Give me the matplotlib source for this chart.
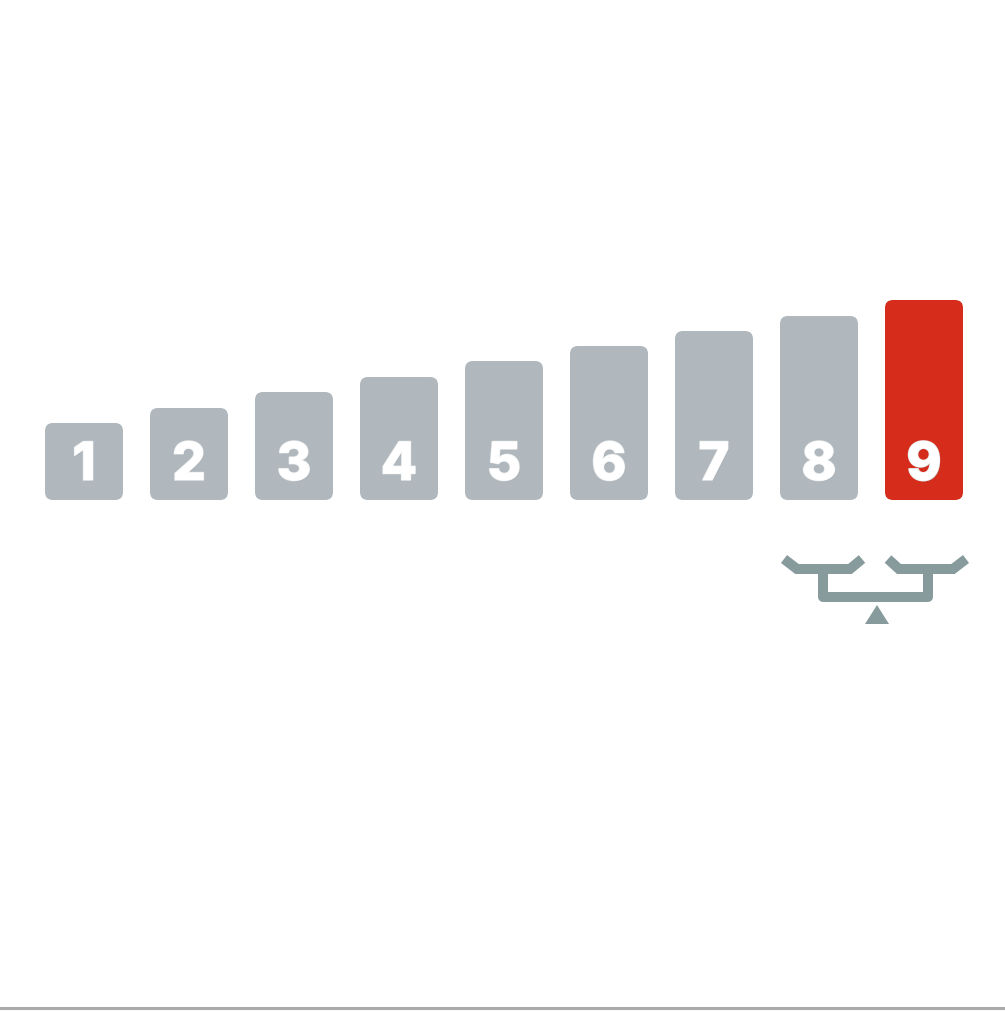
import matplotlib.pyplot as plt
import matplotlib.patheffects as pe
from matplotlib.patches import FancyBboxPatch, Polygon

# bar data (height in px above the baseline)
labels = ["1", "2", "3", "4", "5", "6", "7", "8", "9"]
values = [77, 92, 108, 123, 139, 154, 169, 184, 200]
colors = ["#b0b8bd"] * 8 + ["#d62c1c"]

fig = plt.figure(figsize=(10.05, 10.12), dpi=100)

# main axes: x in bar index, y in px above baseline
ax = fig.add_axes([0, 0, 1, 1])
ax.set_xlim(1 - 84 / 105, 1 + 921 / 105)
ax.set_ylim(-511, 501)
ax.axis("off")

bar_w = 78 / 105
for i, (lab, v, c) in enumerate(zip(labels, values, colors)):
    x = i + 1
    box = FancyBboxPatch((x - bar_w / 2, 0), bar_w, v,
                         boxstyle="round,pad=0,rounding_size=%f" % (8 / 105),
                         mutation_aspect=105, fc=c, ec="none")
    ax.add_patch(box)
    ax.text(x, 20, lab, ha="center", va="baseline", color="white",
            fontsize=38, fontweight="heavy", family=["Inter", "DejaVu Sans"],
            path_effects=[pe.withSimplePatchShadow(offset=(0.6, -0.6),
                                                   shadow_rgbFace="#7d868c", alpha=0.6),
                          pe.withStroke(linewidth=1.2, foreground="#e6e9eb"),
                          pe.Normal()])

# decoration axes in pixels
ax2 = fig.add_axes([0, 0, 1, 1])
ax2.set_xlim(0, 1005)
ax2.set_ylim(1012, 0)
ax2.axis("off")
ax2.patch.set_alpha(0)

icon = "#879a9c"
kw = dict(color=icon, lw=7.2, solid_capstyle="butt", solid_joinstyle="round")
ax2.plot([784, 797, 850, 862], [560, 570, 570, 560], solid_capstyle="butt",
         color=icon, lw=7.2, solid_joinstyle="miter")
ax2.plot([888, 899, 953, 966], [560, 570, 570, 560], solid_capstyle="butt",
         color=icon, lw=7.2, solid_joinstyle="miter")
ax2.plot([823, 823, 928, 928], [570, 598, 598, 570], **kw)
ax2.add_patch(Polygon([[877, 606], [865, 625], [889, 625]], closed=True,
                      fc=icon, ec="none"))

ax2.plot([0, 1005], [1009, 1009], color="#aaaaaa", lw=2.2)

fig.savefig("out.png", dpi=100)
